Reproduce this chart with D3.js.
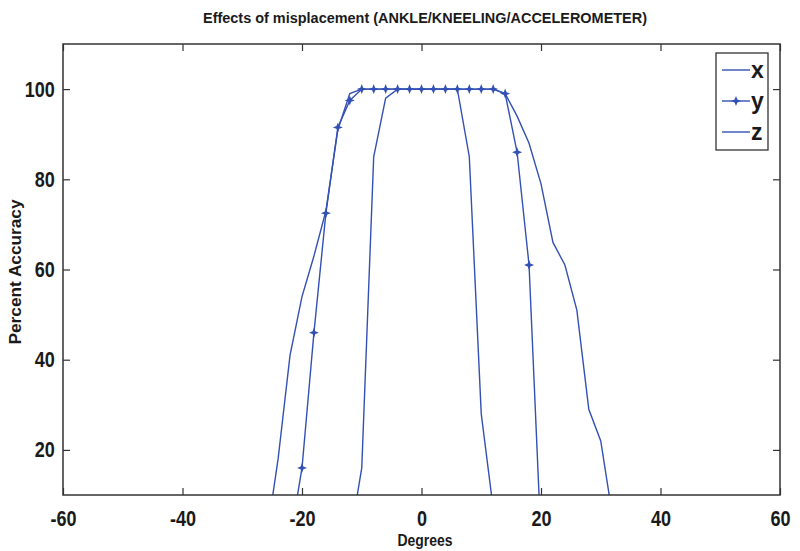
<!DOCTYPE html>
<html><head><meta charset="utf-8">
<script src="https://cdn.jsdelivr.net/npm/d3@7"></script>
<style>body{margin:0;background:#fff}svg{display:block}</style>
</head><body>
<script>
const title = "Effects of misplacement (ANKLE/KNEELING/ACCELEROMETER)";
const xLabel = "Degrees";
const yLabel = "Percent Accuracy";
const xTicks = [-60, -40, -20, 0, 20, 40, 60];
const yTicks = [20, 40, 60, 80, 100];
const degrees = [-26,-24,-22,-20,-18,-16,-14,-12,-10,-8,-6,-4,-2,0,2,4,6,8,10,12,14,16,18,20,22,24,26,28,30,32];
const seriesX = [0,0,0,0,0,0,0,0,16,85,98,100,100,100,100,100,100,85,28,7,0,0,0,0,0,0,0,0,0,0];
const seriesY = [0,0,0,16,46,72.5,91.5,97.5,100,100,100,100,100,100,100,100,100,100,100,100,99,86,61,0,0,0,0,0,0,0];
const seriesZ = [0,18,41,54,63,73,91,99,100,100,100,100,100,100,100,100,100,100,100,100,99,94,88,79,66,61,51,29,22,5];
const seriesNames = ["x", "y", "z"];

const W = 800, H = 551;
const m = {left: 63, right: 780, top: 44, bottom: 495};
const color = "#3350b5";
const axisColor = "#333";
const font = "'Liberation Sans',Arial,sans-serif";

const svg = d3.select("body").append("svg").attr("width", W).attr("height", H);
svg.append("rect").attr("width", W).attr("height", H).attr("fill", "#fff");

const x = d3.scaleLinear().domain([-60, 60]).range([m.left, m.right]);
const y = d3.scaleLinear().domain([10, 110]).range([m.bottom, m.top]);

svg.append("defs").append("clipPath").attr("id", "clip")
  .append("rect").attr("x", m.left).attr("y", m.top)
  .attr("width", m.right - m.left).attr("height", m.bottom - m.top);

const plot = svg.append("g").attr("clip-path", "url(#clip)");
const line = d3.line().x((d, i) => x(degrees[i])).y(d => y(d));
const starPath = "M0,-5L1.4,-1.4L5,0L1.4,1.4L0,5L-1.4,1.4L-5,0L-1.4,-1.4Z";

[seriesX, seriesY, seriesZ].forEach((s, k) => {
  plot.append("path").datum(s).attr("d", line)
    .attr("fill", "none").attr("stroke", color).attr("stroke-width", 1.4);
  if (k === 1) {
    plot.selectAll(".mk").data(s).enter().append("path")
      .attr("d", starPath)
      .attr("transform", (d, i) => `translate(${x(degrees[i])},${y(d)})`)
      .attr("fill", color);
  }
});

// Axes (MATLAB-style inward ticks on all sides)
const tickLen = 7;
const fmt = d => String(d);
const gB = svg.append("g").attr("transform", `translate(0,${m.bottom})`)
  .call(d3.axisBottom(x).tickValues(xTicks).tickSize(-tickLen).tickPadding(12).tickFormat(fmt));
const gT = svg.append("g").attr("transform", `translate(0,${m.top})`)
  .call(d3.axisTop(x).tickValues(xTicks).tickSize(-tickLen).tickFormat(""));
const gL = svg.append("g").attr("transform", `translate(${m.left},0)`)
  .call(d3.axisLeft(y).tickValues(yTicks).tickSize(-tickLen).tickPadding(10).tickFormat(fmt));
const gR = svg.append("g").attr("transform", `translate(${m.right},0)`)
  .call(d3.axisRight(y).tickValues(yTicks).tickSize(-tickLen).tickFormat(""));
[gB, gT, gL, gR].forEach(g => {
  g.select(".domain").remove();
  g.selectAll("line").attr("stroke", axisColor).attr("stroke-width", 1.2);
  g.selectAll("text").attr("fill", "#1a1a1a").attr("font-family", font)
    .attr("font-weight", "bold").attr("font-size", 22).attr("transform", "scale(0.82,1)");
});
gB.selectAll("text").attr("dy", "0.85em");
svg.append("rect").attr("x", m.left).attr("y", m.top)
  .attr("width", m.right - m.left).attr("height", m.bottom - m.top)
  .attr("fill", "none").attr("stroke", axisColor).attr("stroke-width", 1.5);

// Titles
svg.append("text").attr("x", 425).attr("y", 23).attr("text-anchor", "middle")
  .attr("font-family", font).attr("font-weight", "bold").attr("font-size", 14)
  .attr("textLength", 444).attr("lengthAdjust", "spacingAndGlyphs")
  .attr("fill", "#1a1a1a").text(title);
svg.append("text").attr("x", 425).attr("y", 546).attr("text-anchor", "middle")
  .attr("font-family", font).attr("font-weight", "bold").attr("font-size", 16)
  .attr("textLength", 55).attr("lengthAdjust", "spacingAndGlyphs")
  .attr("fill", "#1a1a1a").text(xLabel);
svg.append("text").attr("transform", "translate(21,272) rotate(-90)").attr("text-anchor", "middle")
  .attr("font-family", font).attr("font-weight", "bold").attr("font-size", 16)
  .attr("textLength", 145).attr("lengthAdjust", "spacingAndGlyphs")
  .attr("fill", "#1a1a1a").text(yLabel);

// Legend
const lg = svg.append("g");
lg.append("rect").attr("x", 716).attr("y", 53).attr("width", 52).attr("height", 97)
  .attr("fill", "#fff").attr("stroke", axisColor).attr("stroke-width", 1.3);
seriesNames.forEach((n, i) => {
  const yy = 70 + i * 31;
  lg.append("line").attr("x1", 722).attr("x2", 750).attr("y1", yy).attr("y2", yy)
    .attr("stroke", color).attr("stroke-width", 1.4);
  if (i === 1) lg.append("path").attr("d", starPath).attr("transform", `translate(736,${yy})`).attr("fill", color);
  lg.append("text").attr("x", 751).attr("y", yy).attr("dy", "0.35em")
    .attr("font-family", font).attr("font-weight", "bold").attr("font-size", 23)
    .attr("fill", "#1a1a1a").text(n);
});
</script>
</body></html>
